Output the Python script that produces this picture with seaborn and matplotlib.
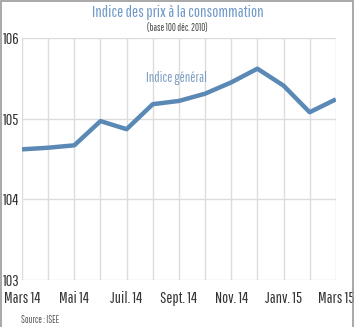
import matplotlib
matplotlib.use("Agg")
import matplotlib.pyplot as plt
import seaborn as sns
import pandas as pd
from matplotlib import font_manager
from matplotlib.patches import Rectangle

months = ["Mars 14", "Avr. 14", "Mai 14", "Juin 14", "Juil. 14", "Août 14", "Sept. 14",
          "Oct. 14", "Nov. 14", "Déc. 14", "Janv. 15", "Févr. 15", "Mars 15"]
values = [104.62, 104.64, 104.67, 104.97, 104.87, 105.18, 105.22,
          105.31, 105.45, 105.62, 105.41, 105.08, 105.24]
tick_labels = ["Mars 14", "Mai 14", "Juil. 14", "Sept. 14", "Nov. 14", "Janv. 15", "Mars 15"]
y_ticks = [103, 104, 105, 106]

sns.set_style("white")
available = {f.name for f in font_manager.fontManager.ttflist}
preferred = ["Pathway Gothic One", "Barlow Condensed", "Roboto Condensed", "Archivo Narrow",
             "Liberation Sans Narrow"]
chosen = [p for p in preferred if p in available][:1]
plt.rcParams['font.family'] = chosen + ['DejaVu Sans']

df = pd.DataFrame({"idx": list(range(len(months))), "value": values})

fig = plt.figure(figsize=(3.55, 3.27), dpi=100)
ax = fig.add_axes([0.062, 0.1437, 0.884, 0.740])

sns.lineplot(data=df, x="idx", y="value", ax=ax, color="#5a89b6", linewidth=3.2,
             solid_capstyle="butt", zorder=3)

ax.set_xlim(0, len(months) - 1)
ax.set_ylim(103, 106)
ax.set_xticks(range(len(months)))
ax.set_xticklabels([m if m in tick_labels else "" for m in months])
ax.set_yticks(y_ticks)
ax.set_yticklabels([str(v) for v in y_ticks])
ax.grid(True, color="#dcdcdc", linewidth=1.0)
ax.set_axisbelow(True)
for s in ax.spines.values():
    s.set_visible(False)
ax.tick_params(axis="both", length=0, labelsize=11.5, colors="#333333")
ax.tick_params(axis="x", pad=8)
ax.tick_params(axis="y", pad=2)
ax.set_xlabel("")
ax.set_ylabel("")

ax.text(5.9, 105.51, "Indice général", color="#7d9fc4", fontsize=10, ha="center", va="center")

fig.text(0.5, 0.963, "Indice des prix à la consommation", color="#7199c9",
         fontsize=11.8, ha="center", va="center")
fig.text(0.5, 0.914, "(base 100 déc. 2010)", color="#444444", fontsize=7,
         ha="center", va="center")
fig.text(0.058, 0.02, "Source : ISEE", color="#555555", fontsize=7, ha="left", va="center")

fig.patches.append(Rectangle((0.003, -0.01), 0.991, 1.007, transform=fig.transFigure,
                             fill=False, edgecolor="#999999", linewidth=1.2))

fig.savefig("out.png", dpi=100)
